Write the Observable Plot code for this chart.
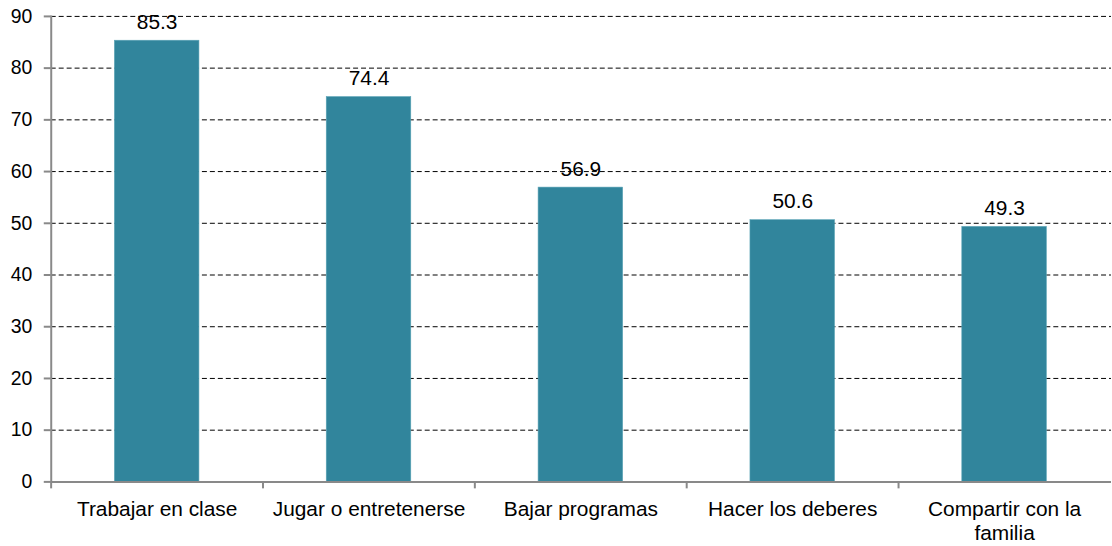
<!DOCTYPE html>
<html>
<head>
<meta charset="utf-8">
<script src="https://cdn.jsdelivr.net/npm/d3@7"></script>
<script src="https://cdn.jsdelivr.net/npm/@observablehq/plot@0.6"></script>
<style>
  html, body { margin: 0; padding: 0; background: #fff; overflow: hidden; }
  #chart svg { display: block; font-family: "Liberation Sans", Arial, sans-serif; }
</style>
</head>
<body>
<div id="chart"></div>
<script>
const categories = ["Trabajar en clase", "Jugar o entretenerse", "Bajar programas", "Hacer los deberes", "Compartir con la familia"];
const xTickLabels = ["Trabajar en clase", "Jugar o entretenerse", "Bajar programas", "Hacer los deberes", "Compartir con la\nfamilia"];
const values = [85.3, 74.4, 56.9, 50.6, 49.3];
const valueLabels = ["85.3", "74.4", "56.9", "50.6", "49.3"];
const yTicks = [0, 10, 20, 30, 40, 50, 60, 70, 80, 90];

const data = categories.map((c, i) => ({category: c, value: values[i], label: valueLabels[i]}));
const tickLabelOf = new Map(categories.map((c, i) => [c, xTickLabels[i]]));

const width = 1118, marginLeft = 51, marginRight = 1;
const step = (width - marginLeft - marginRight) / categories.length;

const chart = Plot.plot({
  width,
  height: 546,
  marginTop: 16,
  marginBottom: 62,
  marginLeft,
  marginRight,
  style: {fontFamily: '"Liberation Sans", Arial, sans-serif', color: "#000", background: "#fff"},
  x: {domain: categories, paddingInner: 0.6, paddingOuter: 0.3, label: null},
  y: {domain: [0, 90], ticks: yTicks, label: null},
  marks: [
    Plot.gridY(yTicks.filter(d => d > 0), {stroke: "#000", strokeOpacity: 1, strokeWidth: 1, strokeDasharray: "5,3"}),
    Plot.barY(data, {x: "category", y: "value", fill: "#31859C", stroke: "#5aa3b6", strokeWidth: 0.6}),
    Plot.text(data, {x: "category", y: "value", text: "label", lineAnchor: "bottom", dy: -12, fontSize: 21, fill: "#000"}),
    Plot.ruleY([0], {stroke: "#898989", strokeWidth: 2}),
    Plot.frame({anchor: "left", stroke: "#898989", strokeWidth: 2}),
    Plot.axisY({ticks: yTicks, tickSize: 7, tickPadding: 12, fontSize: 19.5, stroke: "#898989", strokeWidth: 2, fill: "#000", label: null}),
    Plot.axisX({tickSize: 7, text: null, dx: -step / 2, stroke: "#898989", strokeWidth: 2, label: null}),
    Plot.axisX({tickSize: 0, tickPadding: 17, fontSize: 21, lineHeight: 1.15, tickFormat: d => tickLabelOf.get(d), fill: "#000", label: null})
  ]
});
document.getElementById("chart").appendChild(chart);
</script>
</body>
</html>
